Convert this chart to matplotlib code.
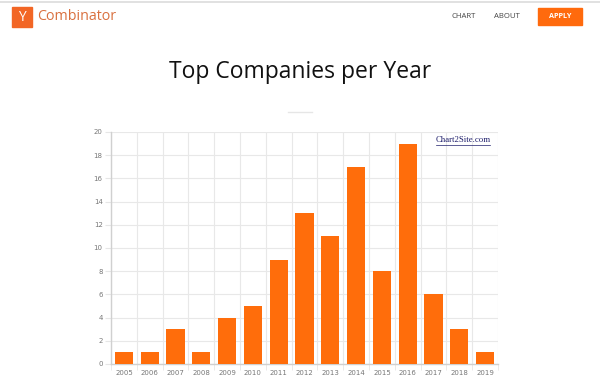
import matplotlib
matplotlib.use("Agg")
import matplotlib.pyplot as plt
from matplotlib.patches import Rectangle
from matplotlib.lines import Line2D
import numpy as np

years = ["2005", "2006", "2007", "2008", "2009", "2010", "2011", "2012",
         "2013", "2014", "2015", "2016", "2017", "2018", "2019"]
companies = [1, 1, 3, 1, 4, 5, 9, 13, 11, 17, 8, 19, 6, 3, 1]
y_ticks = [0, 2, 4, 6, 8, 10, 12, 14, 16, 18, 20]

W, H = 600, 377
fig = plt.figure(figsize=(6, 3.77), dpi=100)
fig.patch.set_facecolor("white")

def fx(x):
    return x / W

def fy(y):
    return 1 - y / H

# header
fig.add_artist(Line2D([0, 1], [fy(1.5), fy(1.5)], color="#dcdcdc", lw=1.2))
fig.add_artist(Rectangle((fx(12), fy(27)), fx(20), 20 / H, color="#f26625"))
fig.text(fx(22), fy(17.5), "Y", color="white", fontsize=10, ha="center",
         va="center", family="Open Sans")
fig.text(fx(37), fy(17), "Combinator", color="#d9703f", fontsize=10.3,
         ha="left", va="center", family="Open Sans")
fig.text(fx(464), fy(17), "CHART", color="#444444", fontsize=5.6,
         ha="center", va="center", family="Open Sans")
fig.text(fx(507), fy(17), "ABOUT", color="#444444", fontsize=5.6,
         ha="center", va="center", family="Open Sans")
fig.add_artist(Rectangle((fx(538), fy(25)), fx(44), 17 / H, color="#ff6a0d"))
fig.text(fx(560), fy(16.5), "APPLY", color="white", fontsize=5.2,
         ha="center", va="center", family="Open Sans", weight="bold")

# title
fig.text(0.5, fy(72), "Top Companies per Year", color="#111111",
         fontsize=16.5, ha="center", va="center", family="Open Sans")
fig.add_artist(Line2D([fx(288), fx(312)], [fy(112), fy(112)],
                      color="#e6e6e6", lw=1))

# chart
ax = fig.add_axes([fx(111), fy(364), fx(387), 232 / H])
x = np.arange(len(years))
ax.bar(x, companies, width=0.7, color="#ff6d0b", zorder=3)
ax.set_xlim(-0.5, len(years) - 0.5)
ax.set_ylim(0, 20)
ax.set_yticks(y_ticks)
ax.set_yticklabels([str(v) for v in y_ticks])
ax.set_xticks(x)
ax.set_xticklabels(years)
ax.set_xticks(np.arange(-0.5, len(years), 1), minor=True)
ax.tick_params(axis="both", which="major", labelsize=5, colors="#777777")
ax.tick_params(axis="x", which="major", length=0, pad=4)
ax.tick_params(axis="x", which="minor", length=4, color="#e6e6e6")
ax.tick_params(axis="y", which="major", length=4, color="#e6e6e6", pad=2)
ax.grid(axis="y", which="major", color="#e8e8e8", lw=0.8, zorder=0)
ax.grid(axis="x", which="minor", color="#e8e8e8", lw=0.8, zorder=0)
for s in ["top", "right"]:
    ax.spines[s].set_visible(False)
ax.spines["left"].set_color("#d0d0d0")
ax.spines["bottom"].set_color("#d0d0d0")
ax.spines["left"].set_linewidth(1)
ax.spines["bottom"].set_linewidth(1)

# watermark
fig.text(fx(463), fy(140), "Chart2Site.com", color="#1c1c6a", fontsize=6.3,
         ha="center", va="center", family="Liberation Serif")
fig.add_artist(Line2D([fx(436), fx(490)], [fy(145), fy(145)],
                      color="#1c1c6a", lw=0.5))

fig.savefig("out.png", dpi=100, facecolor="white")
